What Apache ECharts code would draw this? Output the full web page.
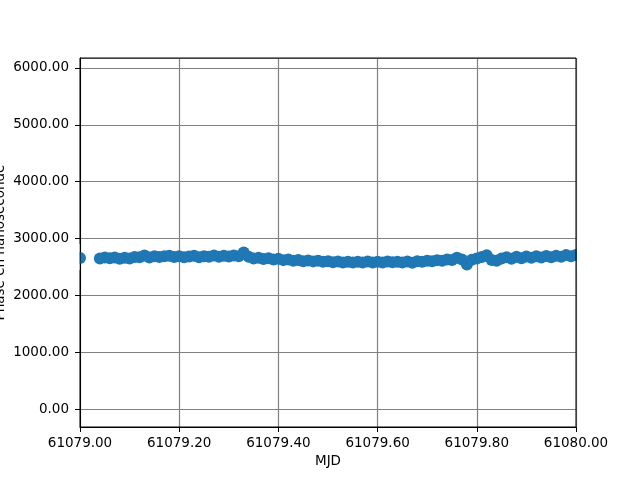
<!DOCTYPE html>
<html>
<head>
<meta charset="utf-8">
<script src="https://cdn.jsdelivr.net/npm/echarts@6/dist/echarts.min.js"></script>
<style>
html,body{margin:0;padding:0;background:#fff;}
#chart{width:640px;height:480px;}
</style>
</head>
<body>
<div id="chart"></div>
<script>
// MJD sample times
var mjd = [
  61079.00,
  61079.04, 61079.05, 61079.06, 61079.07, 61079.08, 61079.09, 61079.10, 61079.11, 61079.12, 61079.13,
  61079.14, 61079.15, 61079.16, 61079.17, 61079.18, 61079.19, 61079.20, 61079.21, 61079.22, 61079.23,
  61079.24, 61079.25, 61079.26, 61079.27, 61079.28, 61079.29, 61079.30, 61079.31, 61079.32, 61079.33,
  61079.34, 61079.35, 61079.36, 61079.37, 61079.38, 61079.39, 61079.40, 61079.41, 61079.42, 61079.43,
  61079.44, 61079.45, 61079.46, 61079.47, 61079.48, 61079.49, 61079.50, 61079.51, 61079.52, 61079.53,
  61079.54, 61079.55, 61079.56, 61079.57, 61079.58, 61079.59, 61079.60, 61079.61, 61079.62, 61079.63,
  61079.64, 61079.65, 61079.66, 61079.67, 61079.68, 61079.69, 61079.70, 61079.71, 61079.72, 61079.73,
  61079.74, 61079.75, 61079.76, 61079.77, 61079.78, 61079.79, 61079.80, 61079.81, 61079.82, 61079.83,
  61079.84, 61079.85, 61079.86, 61079.87, 61079.88, 61079.89, 61079.90, 61079.91, 61079.92, 61079.93,
  61079.94, 61079.95, 61079.96, 61079.97, 61079.98, 61079.99, 61080.00
];
// Phase in nanoseconds
var phase = [
  2657,
  2650, 2665, 2655, 2668, 2645, 2660, 2650, 2675, 2670, 2700,
  2668, 2690, 2675, 2688, 2698, 2676, 2690, 2670, 2685, 2695,
  2672, 2690, 2678, 2700, 2680, 2696, 2684, 2702, 2690, 2755,
  2680, 2648, 2660, 2640, 2652, 2632, 2642, 2620, 2630, 2610,
  2622, 2602, 2615, 2598, 2610, 2592, 2602, 2582, 2595, 2578,
  2592, 2578, 2590, 2580, 2596, 2578, 2592, 2580, 2596, 2582,
  2592, 2578, 2595, 2572, 2600, 2590, 2610, 2600, 2620, 2610,
  2632, 2622, 2660, 2630, 2545, 2625, 2650, 2675, 2705, 2622,
  2608, 2648, 2672, 2645, 2678, 2655, 2682, 2660, 2688, 2666,
  2694, 2672, 2698, 2680, 2708, 2690, 2710
];
var xTickLabels = ['61079.00','61079.20','61079.40','61079.60','61079.80','61080.00'];
var yTickLabels = ['0.00','1000.00','2000.00','3000.00','4000.00','5000.00','6000.00'];

var points = mjd.map(function (t, i) { return [t, phase[i]]; });

var chart = echarts.init(document.getElementById('chart'), null, {renderer: 'canvas'});
var font = 'DejaVu Sans';
chart.setOption({
  animation: false,
  backgroundColor: '#ffffff',
  grid: {left: 80, right: 64, top: 58, bottom: 53, show: true, borderColor: '#000', borderWidth: 1,
         backgroundColor: 'transparent', outerBoundsMode: 'none', containLabel: false, z: 10},
  xAxis: {
    type: 'value', min: 61079, max: 61080, interval: 0.2,
    name: 'MJD', nameLocation: 'middle', nameGap: 27, nameMoveOverlap: false,
    nameTextStyle: {fontFamily: font, fontSize: 13.5, color: '#000'},
    axisLine: {show: true, onZero: false, lineStyle: {color: '#000', width: 1}},
    axisTick: {show: true, length: 5, inside: false, lineStyle: {color: '#000'}},
    axisLabel: {fontFamily: font, fontSize: 13.5, color: '#000', margin: 9,
      formatter: function (v) { return v.toFixed(2); }},
    splitLine: {show: true, lineStyle: {color: '#808080', width: 1.2}}
  },
  yAxis: {
    type: 'value', min: -315, max: 6175, splitNumber: 6,
    name: 'Phase en nanoseconde', nameLocation: 'middle', nameGap: 73, nameMoveOverlap: false,
    nameTextStyle: {fontFamily: font, fontSize: 13.5, color: '#000'},
    axisLine: {show: true, onZero: false, lineStyle: {color: '#000', width: 1}},
    axisTick: {show: true, length: 5, inside: false, lineStyle: {color: '#000'}},
    axisLabel: {fontFamily: font, fontSize: 13.5, color: '#000', margin: 11,
      showMinLabel: false, showMaxLabel: false,
      formatter: function (v) { return v.toFixed(2); }},
    splitLine: {show: true, lineStyle: {color: '#808080', width: 1.2}}
  },
  series: [{
    type: 'scatter',
    data: points,
    symbol: 'circle',
    symbolSize: 12,
    itemStyle: {color: '#1f77b4', opacity: 1},
    clip: true,
    z: 2
  }],
  graphic: [
    {type: 'rect', shape: {x: 66, y: 244, width: 13.5, height: 26}, style: {fill: '#fff'}, z: 100, silent: true},
    {type: 'rect', shape: {x: 577, y: 240, width: 14, height: 30}, style: {fill: '#fff'}, z: 100, silent: true}
  ]
});
</script>
</body>
</html>
